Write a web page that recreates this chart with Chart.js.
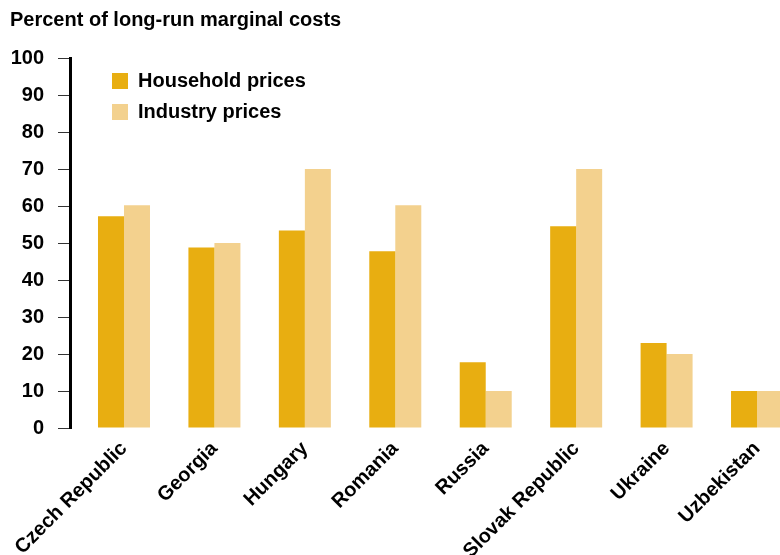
<!DOCTYPE html>
<html>
<head>
<meta charset="utf-8">
<script src="https://cdn.jsdelivr.net/npm/chart.js@4.4.1/dist/chart.umd.min.js"></script>
<style>
  html, body { margin: 0; padding: 0; background: #fff; overflow: hidden; }
  #wrap { width: 780px; height: 555px; position: relative; }
</style>
</head>
<body>
<div id="wrap"><canvas id="chart"></canvas></div>
<script>
// Data
const countries = ["Czech Republic", "Georgia", "Hungary", "Romania", "Russia", "Slovak Republic", "Ukraine", "Uzbekistan"];
const householdPrices = [57.2, 48.8, 53.4, 47.8, 17.8, 54.5, 23, 10];
const industryPrices = [60.2, 50, 70, 60.2, 10, 70, 20, 10];
const yTicks = [0, 10, 20, 30, 40, 50, 60, 70, 80, 90, 100];

const FONT = "'Liberation Sans', Arial, sans-serif";
Chart.defaults.font.family = FONT;
Chart.defaults.font.weight = "bold";
Chart.defaults.font.size = 20;
Chart.defaults.color = "#000";

// put the legend inside the plot, top left, like the original
const legendNudge = {
  id: "legendNudge",
  afterLayout(chart) {
    if (chart.legend) {
      chart.legend.left = chart.chartArea.left + 31;
      chart.legend.top = chart.chartArea.top + 2;
    }
  }
};

const ctx = document.getElementById("chart").getContext("2d");
new Chart(ctx, {
  type: "bar",
  data: {
    datasets: [
      {
        label: "Household prices",
        data: householdPrices.map((v, i) => ({ x: i, y: v })),
        backgroundColor: "#E8AE11",
        borderWidth: 0
      },
      {
        label: "Industry prices",
        data: industryPrices.map((v, i) => ({ x: i, y: v })),
        backgroundColor: "#F3D18E",
        borderWidth: 0
      }
    ]
  },
  options: {
    responsive: true,
    maintainAspectRatio: false,
    animation: false,
    categoryPercentage: 0.575,
    barPercentage: 1,
    layout: { padding: { left: 10, right: 0, top: 0, bottom: 0 } },
    plugins: {
      title: {
        display: true,
        text: "Percent of long-run marginal costs",
        align: "start",
        color: "#000",
        font: { size: 20, weight: "bold" },
        padding: { top: 8, bottom: 26 }
      },
      legend: {
        position: "chartArea",
        align: "start",
        labels: {
          boxWidth: 16,
          boxHeight: 16,
          padding: 11,
          color: "#000",
          font: { size: 20, weight: "bold" }
        }
      },
      tooltip: { enabled: false }
    },
    scales: {
      x: {
        type: "linear",
        min: -0.597,
        max: 7.254,
        offset: false,
        grid: { display: false },
        border: { display: false },
        afterBuildTicks: scale => {
          scale.ticks = countries.map((c, i) => ({ value: i }));
        },
        afterFit: scale => { scale.height = 127; },
        ticks: {
          autoSkip: false,
          minRotation: 45,
          maxRotation: 45,
          padding: 1,
          callback: v => countries[v],
          font: { size: 20, weight: "bold" }
        }
      },
      y: {
        min: 0,
        max: 100,
        afterBuildTicks: scale => {
          scale.ticks = yTicks.map(v => ({ value: v }));
        },
        afterFit: scale => { scale.width = 60; },
        grid: {
          drawOnChartArea: false,
          drawTicks: true,
          tickLength: 12,
          color: "#333",
          lineWidth: 1
        },
        border: { display: true, color: "#000", width: 3 },
        ticks: {
          padding: 14,
          font: { size: 20, weight: "bold" }
        }
      }
    }
  },
  plugins: [legendNudge]
});
</script>
</body>
</html>
